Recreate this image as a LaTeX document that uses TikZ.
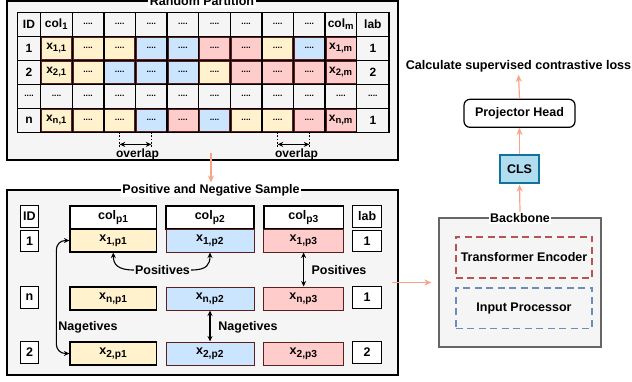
\documentclass[tikz,border=0pt]{standalone}
\usepackage{fontspec}
\setmainfont{Liberation Sans}
\usetikzlibrary{arrows.meta}
\definecolor{ylw}{HTML}{FFF2CC}
\definecolor{blu}{HTML}{CCE5FF}
\definecolor{pnk}{HTML}{FFCCCC}
\definecolor{panel}{HTML}{F5F5F5}
\definecolor{cellb}{HTML}{5C1F1F}
\definecolor{orng}{HTML}{F8A488}
\definecolor{clsf}{HTML}{B1DDF0}
\definecolor{clsd}{HTML}{10739E}
\definecolor{redd}{HTML}{B85450}
\definecolor{blued}{HTML}{6C8EBF}
\definecolor{bbd}{HTML}{666666}
\newcommand\dotcell{{\fontsize{8.5}{8.5}\selectfont....}}
\newcommand\sba[1]{\textsubscript{\fontsize{9.5}{10}\selectfont #1}}
\newcommand\sbb[1]{\textsubscript{\fontsize{10.2}{11}\selectfont #1}}
\tikzset{
  tcell/.style={minimum width=31.6pt, minimum height=24pt, inner sep=0pt},
  ccell/.style={tcell, draw=cellb, line width=0.8pt, minimum width=30pt, minimum height=22.4pt},
  gridl/.style={line width=1.5pt, black},
  frame/.style={draw=black, fill=panel, line width=1.2pt},
  ttl/.style={fill=white, inner sep=1.5pt, font=\fontsize{12.5}{14}\selectfont\bfseries},
  pbox/.style={draw=black, line width=1.1pt, minimum height=23pt, inner sep=0pt},
  pcol/.style={draw=cellb, line width=1pt, minimum height=23pt, inner sep=0pt},
  sbox/.style={draw=black, fill=white, line width=1.1pt, minimum height=21.5pt, inner sep=0pt},
  blk/.style={draw=black, line width=1.1pt},
  barrow/.style={blk, {Stealth[length=5.5pt,width=5pt]}-{Stealth[length=5.5pt,width=5pt]}},
  sarrow/.style={blk, -{Stealth[length=5.5pt,width=5pt]}},
  oarrow/.style={draw=orng, line width=1.2pt, -{Stealth[length=7pt,width=6pt,inset=2pt]}},
  dashl/.style={draw=black, line width=0.6pt, dash pattern=on 1.8pt off 1.5pt},
  dbox/.style={line width=1.7pt, dash pattern=on 7pt off 4.5pt, minimum width=136.6pt, inner sep=0pt, font=\fontsize{12.5}{14}\selectfont\bfseries},
}
\begin{document}
\begin{tikzpicture}[x=1pt,y=-1pt, font=\fontsize{12}{14}\selectfont\bfseries]
\useasboundingbox (0,0) rectangle (632,381);

% ---------------- Random Partition panel
\draw[frame] (7,1) rectangle (398,160);
\node[ttl] (rpt) at (202,1.5) {Random Partition};

% header row
\node[tcell] (r0id) at (29,24.3) {ID};
\node[tcell] (r0c1) at (56.5,24.3) {col\sba{1}};
\foreach \k in {2,...,9} \node[tcell] (r0c\k) at ({40.7+31.6*(\k-0.5)},24.3) {\dotcell};
\node[tcell] (r0c10) at (340.9,24.3) {col\sba{m}};
\node[tcell] (r0lab) at (372.85,24.3) {lab};

% row 1
\node[tcell] (r1id) at (29,48.3) {1};
\node[ccell, fill=ylw] (r1c1) at (56.5,48.3) {x\sba{1,1}};
\foreach \f [count=\k from 2] in {ylw,ylw,blu,blu,pnk,pnk,ylw,blu}
  \node[ccell, fill=\f] (r1c\k) at ({40.7+31.6*(\k-0.5)},48.3) {\dotcell};
\node[ccell, fill=pnk] (r1c10) at (340.9,48.3) {x\sba{1,m}};
\node[tcell] (r1lab) at (372.85,48.3) {1};

% row 2
\node[tcell] (r2id) at (29,72.3) {2};
\node[ccell, fill=ylw] (r2c1) at (56.5,72.3) {x\sba{2,1}};
\foreach \f [count=\k from 2] in {ylw,blu,blu,blu,ylw,pnk,pnk,pnk}
  \node[ccell, fill=\f] (r2c\k) at ({40.7+31.6*(\k-0.5)},72.3) {\dotcell};
\node[ccell, fill=pnk] (r2c10) at (340.9,72.3) {x\sba{2,m}};
\node[tcell] (r2lab) at (372.85,72.3) {2};

% row dots
\node[tcell] (r3id) at (29,96.3) {\dotcell};
\foreach \k in {1,...,10} \node[tcell] (r3c\k) at ({40.7+31.6*(\k-0.5)},96.3) {\dotcell};
\node[tcell] (r3lab) at (372.85,96.3) {\dotcell};

% row n
\node[tcell] (r4id) at (29,120.3) {n};
\node[ccell, fill=ylw] (r4c1) at (56.5,120.3) {x\sba{n,1}};
\foreach \f [count=\k from 2] in {ylw,ylw,blu,pnk,blu,ylw,ylw,pnk}
  \node[ccell, fill=\f] (r4c\k) at ({40.7+31.6*(\k-0.5)},120.3) {\dotcell};
\node[ccell, fill=pnk] (r4c10) at (340.9,120.3) {x\sba{n,m}};
\node[tcell] (r4lab) at (372.85,120.3) {1};

% grid
\foreach \x in {40.7,72.3,103.9,135.5,167.1,198.7,230.3,261.9,293.5,325.1,356.7}
  \draw[gridl] (\x,12.3) -- (\x,132.3);
\foreach \y in {36.3,60.3,84.3,108.3}
  \draw[gridl] (17.3,\y) -- (389,\y);
\draw[gridl] (17.3,12.3) rectangle (389,132.3);

% overlaps
\foreach \a/\b/\n in {3/4/1, 8/9/2}{
  \draw[dashl] (r4c\a.south) -- ([yshift=-15pt]r4c\a.south);
  \draw[dashl] (r4c\b.south) -- ([yshift=-15pt]r4c\b.south);
  \coordinate (oa\n) at ([yshift=-12.5pt]r4c\a.south);
  \coordinate (ob\n) at ([yshift=-12.5pt]r4c\b.south);
  \draw[barrow, line width=0.9pt] (oa\n) -- (ob\n);
}
\node (ov1) at (137.5,154.5) {overlap};
\node (ov2) at (296.5,154.5) {overlap};

% ---------------- Positive and Negative Sample panel
\draw[frame] (7,190) rectangle (398,375);
\node[ttl] (pnt) at (211,190) {Positive and Negative Sample};

\begin{scope}[font=\fontsize{12.5}{14}\selectfont\bfseries]
\node[sbox, minimum width=17.7pt] (hid) at (29.5,216.5) {ID};
\node[sbox, minimum width=17.7pt] (id1) at (29.5,241) {1};
\node[sbox, minimum width=17.7pt] (idn) at (29.5,297.5) {n};
\node[sbox, minimum width=17.7pt] (id2) at (29.5,352.5) {2};
\node[sbox, minimum width=29pt] (hlab) at (367.2,216.5) {lab};
\node[sbox, minimum width=29pt] (lab1) at (367.2,241) {1};
\node[sbox, minimum width=29pt] (labn) at (367.2,297.5) {1};
\node[sbox, minimum width=29pt] (lab2) at (367.2,352.5) {2};

\node[pbox, fill=white, minimum width=86.7pt] (hp1) at (113.3,217.5) {col\sbb{p1}};
\node[pbox, fill=white, minimum width=88pt] (hp2) at (210,217.5) {col\sbb{p2}};
\node[pbox, fill=white, minimum width=79.3pt] (hp3) at (303.6,217.5) {col\sbb{p3}};

\node[pbox, fill=ylw, minimum width=86.7pt] (x1p1) at (113.3,240.5) {x\sbb{1,p1}};
\node[pcol, fill=blu, minimum width=88pt] (x1p2) at (210,240.5) {x\sbb{1,p2}};
\node[pcol, fill=pnk, minimum width=79.3pt] (x1p3) at (303.6,240.5) {x\sbb{1,p3}};

\node[pbox, fill=ylw, minimum width=86.7pt] (xnp1) at (113.3,298.5) {x\sbb{n,p1}};
\node[pcol, fill=blu, minimum width=88pt] (xnp2) at (210,298.5) {x\sbb{n,p2}};
\node[pcol, fill=pnk, minimum width=79.3pt] (xnp3) at (303.6,298.5) {x\sbb{n,p3}};

\node[pbox, fill=ylw, minimum width=86.7pt] (x2p1) at (113.3,353.5) {x\sbb{2,p1}};
\node[pcol, fill=blu, minimum width=88pt] (x2p2) at (210,353.5) {x\sbb{2,p2}};
\node[pcol, fill=pnk, minimum width=79.3pt] (x2p3) at (303.6,353.5) {x\sbb{2,p3}};

\node[inner sep=1pt] (pos1) at (162.5,270) {Positives};
\node[inner sep=1pt] (pos2) at (339,270) {Positives};
\node[inner sep=1pt] (neg1) at (248,327) {Nagetives};
\node[inner sep=1pt] (neg2) at (88,327) {Nagetives};
\end{scope}

\draw[sarrow] (pos1.west) .. controls +(-16,0) and +(0,12) .. (x1p1.south);
\draw[sarrow] (pos1.east) .. controls +(16,0) and +(0,12) .. (x1p2.south);
\draw[barrow] (x1p3.south) -- (xnp3.north);
\draw[barrow] (xnp2.south) -- (x2p2.north);
\draw[barrow, rounded corners=9pt] (x1p1.west) -- ++(-13,0) |- (x2p1.west);

% ---------------- right column
\node[draw=bbd, fill=panel, line width=1.1pt, minimum width=162pt, minimum height=129pt, inner sep=0pt] (bb) at (520,282.5) {};
\node[ttl] (bbt) at (520,218) {Backbone};
\node[dbox, draw=redd, minimum height=41.6pt] (te) at (524,257.5) {Transformer Encoder};
\node[dbox, draw=blued, minimum height=40.3pt] (ip) at (524,308.2) {Input Processor};

\node[draw=clsd, fill=clsf, line width=1.2pt, minimum width=39pt, minimum height=28pt, inner sep=0pt, font=\fontsize{12.5}{14}\selectfont\bfseries] (cls) at (519.5,169) {CLS};
\node[draw=black, fill=white, rounded corners=6pt, line width=1.2pt, minimum width=111pt, minimum height=28pt, inner sep=0pt, font=\fontsize{12.5}{14}\selectfont\bfseries] (proj) at (519.5,113.3) {Projector Head};
\node[inner sep=1pt, font=\fontsize{12.6}{14}\selectfont\bfseries] (loss) at (518.5,66.7) {Calculate supervised contrastive loss};

% orange connectors
\coordinate (rpout) at (211,153);
\draw[oarrow] (rpout) -- (pnt.north);
\coordinate (pnout) at (392,282.5);
\draw[oarrow, shorten >=7pt] (pnout) -- (bb.west);
\draw[oarrow, shorten >=1pt] (bbt.north) -- (cls.south);
\draw[oarrow] (cls.north) -- (proj.south);
\draw[oarrow, shorten >=1pt] (proj.north) -- (loss.south);
\end{tikzpicture}
\end{document}
